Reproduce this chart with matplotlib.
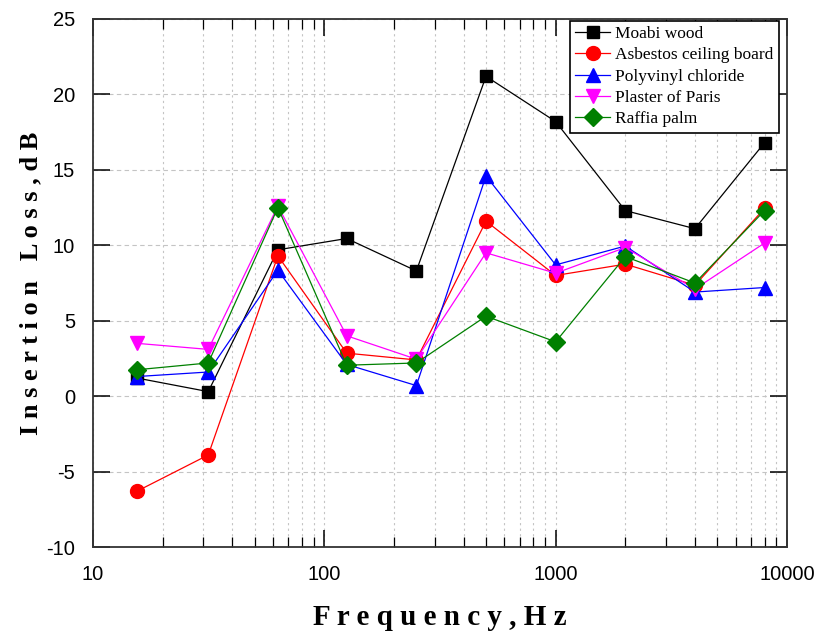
#!/usr/bin/env python3
import matplotlib
matplotlib.use('Agg')
import matplotlib.pyplot as plt
from matplotlib.ticker import LogLocator, NullFormatter, FixedLocator

# Octave band centre frequencies (Hz)
freqs = [15.5, 31.5, 63, 125, 250, 500, 1000, 2000, 4000, 8000]

# Insertion loss (dB) per material
moabi = [1.2, 0.3, 9.7, 10.45, 8.3, 21.2, 18.2, 12.3, 11.1, 16.8]
asbestos = [-6.3, -3.9, 9.3, 2.85, 2.4, 11.6, 8.0, 8.75, 7.35, 12.45]
pvc = [1.3, 1.6, 8.35, 2.1, 0.7, 14.6, 8.7, 9.95, 6.9, 7.2]
plaster = [3.5, 3.1, 12.6, 4.0, 2.45, 9.5, 8.15, 9.85, 7.1, 10.15]
raffia = [1.75, 2.2, 12.5, 2.05, 2.2, 5.3, 3.6, 9.25, 7.5, 12.3]

labels = ['Moabi wood', 'Asbestos ceiling board', 'Polyvinyl chloride',
          'Plaster of Paris', 'Raffia palm']
colors = ['black', 'red', 'blue', 'magenta', 'green']
markers = ['s', 'o', '^', 'v', 'D']
sizes = [9, 10, 10, 10, 9]

yticks = [-10, -5, 0, 5, 10, 15, 20, 25]


def plot_chart():
    plt.rcParams['axes.unicode_minus'] = False
    fig = plt.figure(figsize=(8.22, 6.31), dpi=100)
    ax = fig.add_axes([0.1131, 0.1331, 0.8443, 0.8368])

    series = [moabi, asbestos, pvc, plaster, raffia]
    for vals, lab, col, mk, ms in zip(series, labels, colors, markers, sizes):
        ax.plot(freqs, vals, color=col, marker=mk, markersize=ms, lw=0.9,
                markeredgecolor=col, label=lab)

    ax.set_xscale('log')
    ax.set_xlim(10, 10000)
    ax.set_ylim(-10, 25)
    ax.set_yticks(yticks)
    ax.xaxis.set_major_locator(FixedLocator([10, 100, 1000, 10000]))
    ax.set_xticklabels(['10', '100', '1000', '10000'])
    ax.xaxis.set_minor_locator(LogLocator(base=10, subs=range(2, 10)))
    ax.xaxis.set_minor_formatter(NullFormatter())

    # grid
    ax.grid(axis='y', which='major', ls=(0, (4, 3)), color='#c4c4c4', lw=0.8)
    ax.grid(axis='x', which='both', ls=(0, (2, 3)), color='#c4c4c4', lw=0.8)
    ax.set_axisbelow(True)

    ax.tick_params(which='both', direction='in', top=True, right=True,
                   labelsize=14.5)
    ax.tick_params(axis='x', pad=13)
    ax.tick_params(axis='y', pad=13)
    ax.tick_params(which='major', length=12, width=1.1)
    ax.tick_params(which='minor', length=7, width=0.9)
    for lbl in ax.get_xticklabels() + ax.get_yticklabels():
        lbl.set_family('Liberation Sans')
    for sp in ax.spines.values():
        sp.set_linewidth(1.3)
        sp.set_color('#333333')

    ax.set_xlabel('F r e q u e n c y , H z', fontsize=21, fontweight='bold',
                  family='Liberation Serif', labelpad=14)
    ax.set_ylabel('I n s e r t i o n   L o s s , d B', fontsize=19,
                  fontweight='bold', family='Liberation Serif', labelpad=3)

    leg = ax.legend(loc='upper right', bbox_to_anchor=(0.988, 0.997),
                    prop={'family': 'Liberation Serif', 'size': 12.5},
                    fancybox=False, framealpha=1, edgecolor='black',
                    borderpad=0.3, labelspacing=0.3, handlelength=2.0,
                    handletextpad=0.3, borderaxespad=0)
    leg.get_frame().set_linewidth(1.2)

    fig.savefig('out.png', dpi=100)


if __name__ == "__main__":
    plot_chart()
